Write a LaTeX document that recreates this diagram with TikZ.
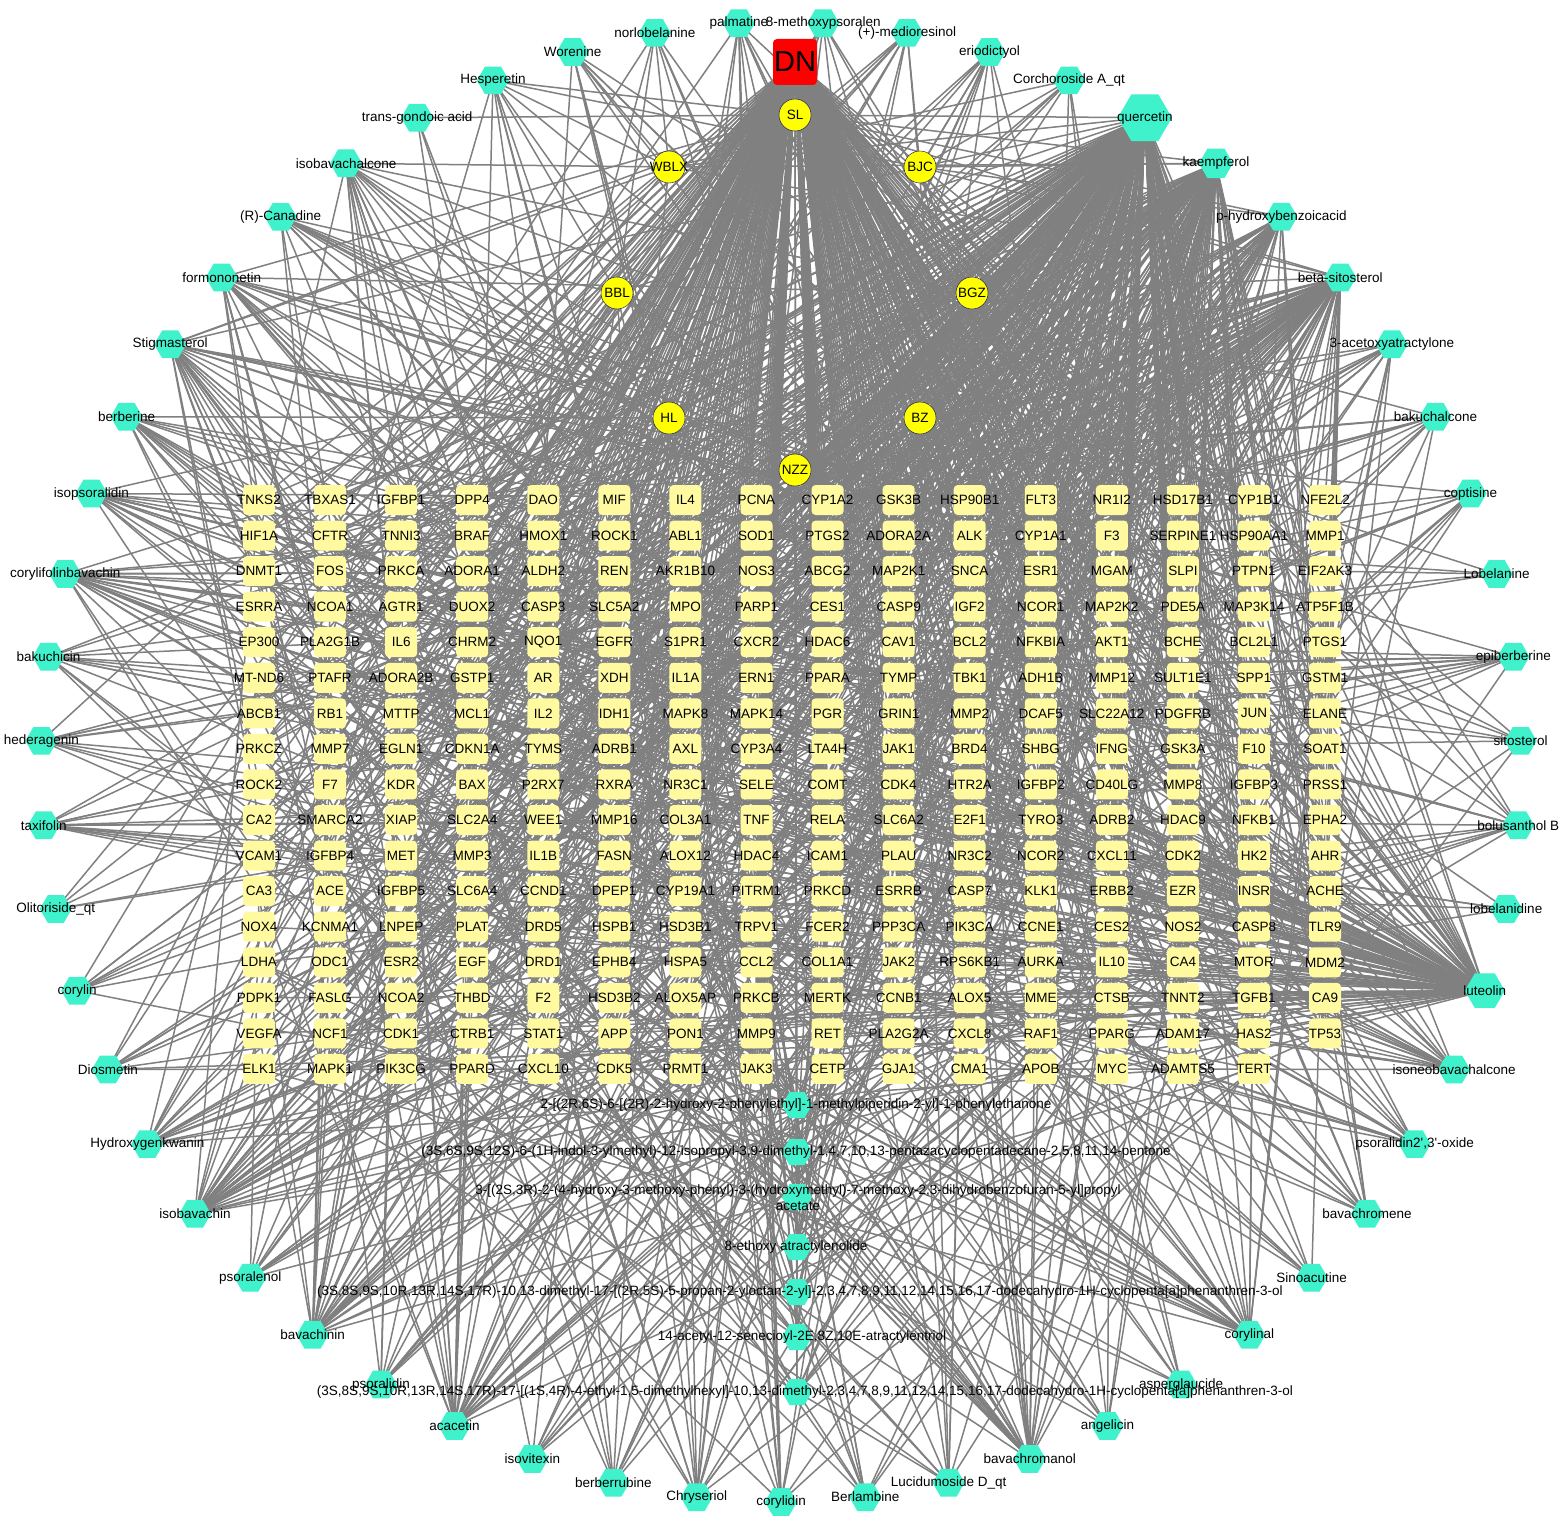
\documentclass[tikz,border=0pt]{standalone}
\usepackage{fontspec}
\setmainfont{Liberation Sans}
\usetikzlibrary{shapes.geometric}
\pgfdeclarelayer{bg}
\pgfsetlayers{bg,main}
\definecolor{edgegray}{RGB}{128,128,128}
\definecolor{hexc}{RGB}{64,242,204}
\definecolor{genec}{RGB}{255,250,160}
\definecolor{herbc}{RGB}{255,255,0}
\definecolor{dnc}{RGB}{255,0,0}
\begin{document}
\begin{tikzpicture}[x=1pt,y=-1pt,
  edge/.style={draw=edgegray, line width=1.5pt},
  hexn/.style={regular polygon, regular polygon sides=6, fill=hexc, draw=none, inner sep=0pt},
  lbl/.style={font=\fontsize{13.5}{16}\selectfont, inner sep=0pt, text=black},
  gene/.style={rectangle, rounded corners=4pt, fill=genec, draw=none, minimum width=32pt, minimum height=30pt, inner sep=0pt},
  herb/.style={circle, fill=herbc, draw=blue!40!black, line width=0.4pt, minimum size=32pt, inner sep=0pt},
  dnbox/.style={rectangle, rounded corners=4pt, fill=dnc, draw=none, minimum width=44pt, minimum height=46pt, inner sep=0pt, font=\fontsize{29}{30}\selectfont}]
\useasboundingbox (0,0) rectangle (1568,1525);

% ---------- targets (grid) ----------
\foreach \row [count=\r] in {
 {TNKS2,TBXAS1,IGFBP1,DPP4,DAO,MIF,IL4,PCNA,CYP1A2,GSK3B,HSP90B1,FLT3,NR1I2,HSD17B1,CYP1B1,NFE2L2},
 {HIF1A,CFTR,TNNI3,BRAF,HMOX1,ROCK1,ABL1,SOD1,PTGS2,ADORA2A,ALK,CYP1A1,F3,SERPINE1,HSP90AA1,MMP1},
 {DNMT1,FOS,PRKCA,ADORA1,ALDH2,REN,AKR1B10,NOS3,ABCG2,MAP2K1,SNCA,ESR1,MGAM,SLPI,PTPN1,EIF2AK3},
 {ESRRA,NCOA1,AGTR1,DUOX2,CASP3,SLC5A2,MPO,PARP1,CES1,CASP9,IGF2,NCOR1,MAP2K2,PDE5A,MAP3K14,ATP5F1B},
 {EP300,PLA2G1B,IL6,CHRM2,NQO1,EGFR,S1PR1,CXCR2,HDAC6,CAV1,BCL2,NFKBIA,AKT1,BCHE,BCL2L1,PTGS1},
 {MT-ND6,PTAFR,ADORA2B,GSTP1,AR,XDH,IL1A,ERN1,PPARA,TYMP,TBK1,ADH1B,MMP12,SULT1E1,SPP1,GSTM1},
 {ABCB1,RB1,MTTP,MCL1,IL2,IDH1,MAPK8,MAPK14,PGR,GRIN1,MMP2,DCAF5,SLC22A12,PDGFRB,JUN,ELANE},
 {PRKCZ,MMP7,EGLN1,CDKN1A,TYMS,ADRB1,AXL,CYP3A4,LTA4H,JAK1,BRD4,SHBG,IFNG,GSK3A,F10,SOAT1},
 {ROCK2,F7,KDR,BAX,P2RX7,RXRA,NR3C1,SELE,COMT,CDK4,HTR2A,IGFBP2,CD40LG,MMP8,IGFBP3,PRSS1},
 {CA2,SMARCA2,XIAP,SLC2A4,WEE1,MMP16,COL3A1,TNF,RELA,SLC6A2,E2F1,TYRO3,ADRB2,HDAC9,NFKB1,EPHA2},
 {VCAM1,IGFBP4,MET,MMP3,IL1B,FASN,ALOX12,HDAC4,ICAM1,PLAU,NR3C2,NCOR2,CXCL11,CDK2,HK2,AHR},
 {CA3,ACE,IGFBP5,SLC6A4,CCND1,DPEP1,CYP19A1,PITRM1,PRKCD,ESRRB,CASP7,KLK1,ERBB2,EZR,INSR,ACHE},
 {NOX4,KCNMA1,LNPEP,PLAT,DRD5,HSPB1,HSD3B1,TRPV1,FCER2,PPP3CA,PIK3CA,CCNE1,CES2,NOS2,CASP8,TLR9},
 {LDHA,ODC1,ESR2,EGF,DRD1,EPHB4,HSPA5,CCL2,COL1A1,JAK2,RPS6KB1,AURKA,IL10,CA4,MTOR,MDM2},
 {PDPK1,FASLG,NCOA2,THBD,F2,HSD3B2,ALOX5AP,PRKCB,MERTK,CCNB1,ALOX5,MME,CTSB,TNNT2,TGFB1,CA9},
 {VEGFA,NCF1,CDK1,CTRB1,STAT1,APP,PON1,MMP9,RET,PLA2G2A,CXCL8,RAF1,PPARG,ADAM17,HAS2,TP53},
 {ELK1,MAPK1,PIK3CG,PPARD,CXCL10,CDK5,PRMT1,JAK3,CETP,GJA1,CMA1,APOB,MYC,ADAMTS5,TERT}}{
  \foreach \nm [count=\c] in \row {
    \pgfmathtruncatemacro\gi{(\r-1)*16+\c}
    \node[gene] (g\gi) at ({259+(\c-1)*71.07},{500+(\r-1)*35.56}) {};
    \node[lbl] (gl\gi) at (g\gi) {\nm};
  }
}

% ---------- ring compounds ----------
\foreach \i/\nm/\sz in {0/corylidin/32, 1/Berlambine/32, 2/{Lucidumoside D\_qt}/32, 3/bavachromanol/32,
 4/angelicin/32, 5/asperglaucide/32, 6/corylinal/32, 7/Sinoacutine/32, 8/bavachromene/32,
 9/{psoralidin2\textquotesingle,3\textquotesingle-oxide}/32, 10/isoneobavachalcone/32, 11/luteolin/40,
 12/lobelanidine/32, 13/{bolusanthol B}/32, 14/sitosterol/32, 15/epiberberine/32, 16/Lobelanine/32,
 17/coptisine/32, 18/bakuchalcone/32, 19/3-acetoxyatractylone/32, 20/beta-sitosterol/32,
 21/p-hydroxybenzoicacid/32, 22/kaempferol/34, 23/quercetin/54, 24/{Corchoroside A\_qt}/32,
 25/eriodictyol/32, 26/{(+)-medioresinol}/32, 27/8-methoxypsoralen/32, 28/palmatine/32,
 29/norlobelanine/32, 30/Worenine/32, 31/Hesperetin/32, 32/{trans-gondoic acid}/32,
 33/isobavachalcone/32, 34/{(R)-Canadine}/32, 35/formononetin/32, 36/Stigmasterol/32,
 37/berberine/32, 38/isopsoralidin/32, 39/corylifolinbavachin/32, 40/bakuchicin/32,
 41/hederagenin/32, 42/taxifolin/32, 43/{Olitoriside\_qt}/32, 44/corylin/32, 45/Diosmetin/32,
 46/Hydroxygenkwanin/32, 47/isobavachin/32, 48/psoralenol/32, 49/bavachinin/32,
 50/psoralidin/32, 51/acacetin/32, 52/isovitexin/32, 53/berberrubine/32, 54/Chryseriol/32}{
  \pgfmathsetmacro\ang{\i*6.545454}
  \pgfmathsetmacro\px{781+740*sin(\ang)}
  \pgfmathsetmacro\py{762+740*cos(\ang)}
  \node[hexn, minimum size=\sz pt] (c\i) at (\px,\py) {};
  \node[lbl] (cl\i) at (c\i) {\nm};
}

% ---------- middle compounds ----------
\foreach \k/\yy in {1/1105,2/1152,3/1197,4/1247,5/1292,6/1337,7/1392}{
  \node[hexn, minimum size=30pt] (m\k) at (797,\yy) {};
}
\node[lbl] (ml1) at (796,1105) {2-[(2R,6S)-6-[(2R)-2-hydroxy-2-phenylethyl]-1-methylpiperidin-2-yl]-1-phenylethanone};
\node[lbl] (ml2) at (796,1152) {(3S,6S,9S,12S)-6-(1H-indol-3-ylmethyl)-12-isopropyl-3,9-dimethyl-1,4,7,10,13-pentazacyclopentadecane-2,5,8,11,14-pentone};
\node[lbl, align=center] (ml3) at (798,1198) {3-[(2S,3R)-2-(4-hydroxy-3-methoxy-phenyl)-3-(hydroxymethyl)-7-methoxy-2,3-dihydrobenzofuran-5-yl]propyl\\acetate};
\node[lbl] (ml4) at (796,1247) {8-ethoxy atractylenolide};
\node[lbl] (ml5) at (800,1292) {(3S,8S,9S,10R,13R,14S,17R)-10,13-dimethyl-17-[(2R,5S)-5-propan-2-yloctan-2-yl]-2,3,4,7,8,9,11,12,14,15,16,17-dodecahydro-1H-cyclopenta[a]phenanthren-3-ol};
\node[lbl] (ml6) at (802,1337) {14-acetyl-12-senecioyl-2E,8Z,10E-atractylentriol};
\node[lbl] (ml7) at (805,1392) {(3S,8S,9S,10R,13R,14S,17R)-17-[(1S,4R)-4-ethyl-1,5-dimethylhexyl]-10,13-dimethyl-2,3,4,7,8,9,11,12,14,15,16,17-dodecahydro-1H-cyclopenta[a]phenanthren-3-ol};

% ---------- herbs and disease ----------
\foreach \h/\hx/\hy in {SL/795/115, WBLX/669/167, BJC/920/167, BBL/617/293, BGZ/972/293, HL/669/418, BZ/920/418, NZZ/795/470}{
  \node[herb] (\h) at (\hx,\hy) {};
  \node[lbl] (\h l) at (\h) {\h};
}
\node[dnbox] (DN) at (795,62) {DN};

% ---------- edges ----------
\begin{pgfonlayer}{bg}
\fill[white] (0,0) rectangle (1568,1525);
\pgfmathsetseed{4242}
% disease - targets
\foreach \g in {1,...,271} {\draw[edge] (DN.center) -- (g\g.center);}
% herb - compound
\foreach \h/\lst in {
  SL/{c20,c21,c32,c35,c36,c23,c22,c14,c46,c31,m5,m7},
  WBLX/{c52,c41,c23,c22,c24,c43,c36,c20,c30,c29,c33,c31},
  BJC/{c23,c11,c20,c36,c22,c7,c5,c25,c26,c31,c24,c21},
  BBL/{c29,c16,c12,c11,c45,c46,c54,c51,c31,c23,m1,c13,c34},
  BGZ/{c0,c3,c4,c6,c8,c9,c10,c18,c27,c33,c38,c39,c40,c44,c47,c48,c49,c50,c35,c42,c13,c20},
  HL/{c1,c15,c17,c28,c30,c34,c37,c53,c23,c24,c43,m2,c7},
  BZ/{c19,m4,m6,m3,c21,c20,c2},
  NZZ/{c2,c25,c22,c23,c11,c42,c20,c26,m5,m7,c14,m3}}{
  \foreach \c in \lst {\draw[edge] (\h.center) -- (\c.center);}
}
% hub compounds - targets (each target at most once)
\foreach \c/\p in {c23/0.78, c22/0.42, c11/0.42, c20/0.22, c21/0.14}{
  \foreach \g in {1,...,271}{
    \pgfmathsetmacro\rr{rnd}
    \ifdim\rr pt<\p pt \draw[edge] (\c.center) -- (g\g.center); \fi
  }
}
% other compounds - targets
\foreach \c/\n in {c0/12,c1/10,c2/10,c3/30,c4/8,c5/6,c6/25,c7/6,c8/12,c9/12,c10/20,
  c12/4,c13/12,c14/6,c15/12,c16/4,c17/10,c18/12,c19/14,
  c24/6,c25/10,c26/8,c27/10,c28/10,c29/6,c30/8,c31/8,c32/3,c33/18,c34/12,c35/20,c36/25,
  c37/15,c38/18,c39/25,c40/12,c41/10,c42/12,c43/3,c44/8,c45/10,c46/15,c47/35,c48/12,
  c49/30,c50/12,c51/30,c52/8,c53/10,c54/15,m1/8,m2/6,m3/8,m4/10,m5/8,m6/8,m7/8}{
  \foreach \k in {1,...,\n}{
    \pgfmathrandominteger{\g}{1}{271}
    \draw[edge] (\c.center) -- (g\g.center);
  }
}
\end{pgfonlayer}
\end{tikzpicture}
\end{document}
